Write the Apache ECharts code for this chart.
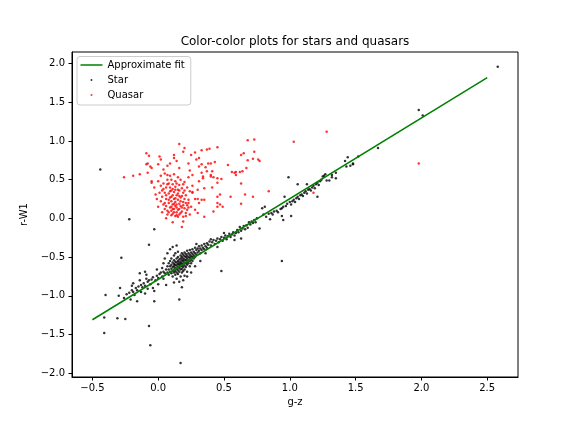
<!DOCTYPE html>
<html>
<head>
<meta charset="utf-8">
<script src="https://cdn.jsdelivr.net/npm/echarts@6/dist/echarts.min.js"></script>
<style>
  html, body { margin: 0; padding: 0; background: #fff; }
  #main { width: 576px; height: 432px; }
</style>
</head>
<body>
<div id="main"></div>
<script>
// tick labels
var xTicks = [-0.5, 0, 0.5, 1, 1.5, 2, 2.5];
var yTicks = [-2, -1.5, -1, -0.5, 0, 0.5, 1, 1.5, 2];

// approximate fit line (two ends)
var fitX = [-0.5, 2.5];
var fitY = [-1.31, 1.82];

// stars, [g-z, r-W1]
var starPoints = [
  [-0.44,0.63],[-0.22,-0.01],[-0.03,-0.14],[-0.07,-0.34],[-0.28,-0.51],[-0.40,-0.99],[-0.29,-0.90],[-0.41,-1.28],
  [-0.41,-1.48],[-0.31,-1.29],[-0.25,-1.30],[-0.07,-1.39],[-0.06,-1.64],[0.17,-1.87],[0.48,-0.68],[0.16,-1.05],
  [-0.03,-1.07],[-0.16,-1.07],[-0.21,-1.05],[-0.14,-0.71],[-0.10,-0.69],[-0.09,-0.73],[0.06,-0.86],[0.04,-0.78],
  [-0.03,-0.94],[-0.10,-0.97],[-0.19,-0.84],[0.94,-0.55],[0.99,0.53],[1.06,0.44],[0.96,0.28],[1.21,0.28],
  [0.94,0.03],[1.01,0.03],[0.95,-0.02],[0.77,-0.13],[0.85,-0.01],[1.98,1.40],[2.01,1.33],[2.58,1.96],
  [1.67,0.91],[1.52,0.80],[1.42,0.74],[1.44,0.79],[1.43,0.67],[1.46,0.68],[1.48,0.70],[1.48,0.71],
  [-0.24,-0.98],[-0.22,-0.96],[-0.20,-0.93],[-0.19,-0.95],[-0.17,-0.90],[-0.16,-0.93],[-0.15,-0.88],[-0.13,-0.86],
  [-0.12,-0.89],[-0.11,-0.84],[-0.10,-0.87],[-0.08,-0.82],[-0.07,-0.80],[-0.06,-0.85],[-0.05,-0.79],[-0.04,-0.76],
  [-0.02,-0.80],[-0.01,-0.74],[0.00,-0.77],[0.01,-0.72],[0.02,-0.70],[0.03,-0.75],[0.04,-0.69],[0.05,-0.71],
  [-0.30,-1.00],[-0.26,-1.03],[-0.18,-0.99],[-0.13,-0.95],[-0.08,-0.91],[-0.14,-0.80],[-0.04,-0.90],[-0.20,-0.87],
  [-0.09,-0.78],[0.00,-0.85],[0.03,-0.64],[-0.01,-0.66],
  [0.06,-0.66],[0.07,-0.62],[0.07,-0.70],[0.08,-0.58],[0.08,-0.66],[0.08,-0.73],[0.09,-0.62],[0.09,-0.69],
  [0.09,-0.55],[0.10,-0.60],[0.10,-0.65],[0.10,-0.71],[0.10,-0.52],[0.11,-0.57],[0.11,-0.63],[0.11,-0.68],
  [0.11,-0.75],[0.12,-0.54],[0.12,-0.59],[0.12,-0.62],[0.12,-0.66],[0.12,-0.70],[0.12,-0.48],[0.13,-0.56],
  [0.13,-0.60],[0.13,-0.64],[0.13,-0.68],[0.13,-0.73],[0.13,-0.45],[0.14,-0.52],[0.14,-0.57],[0.14,-0.61],
  [0.14,-0.65],[0.14,-0.70],[0.14,-0.78],[0.15,-0.50],[0.15,-0.55],[0.15,-0.59],[0.15,-0.63],[0.15,-0.67],
  [0.15,-0.72],[0.15,-0.43],[0.16,-0.53],[0.16,-0.57],[0.16,-0.60],[0.16,-0.64],[0.16,-0.69],[0.16,-0.82],
  [0.17,-0.48],[0.17,-0.52],[0.17,-0.56],[0.17,-0.59],[0.17,-0.62],[0.17,-0.66],[0.17,-0.75],[0.18,-0.45],
  [0.18,-0.50],[0.18,-0.54],[0.18,-0.58],[0.18,-0.61],[0.18,-0.65],[0.18,-0.70],[0.19,-0.47],[0.19,-0.52],
  [0.19,-0.55],[0.19,-0.59],[0.19,-0.63],[0.19,-0.68],[0.20,-0.44],[0.20,-0.49],[0.20,-0.53],[0.20,-0.57],
  [0.20,-0.61],[0.20,-0.66],[0.20,-0.74],[0.21,-0.46],[0.21,-0.50],[0.21,-0.54],[0.21,-0.58],[0.21,-0.63],
  [0.22,-0.42],[0.22,-0.48],[0.22,-0.52],[0.22,-0.56],[0.22,-0.60],[0.22,-0.69],[0.23,-0.45],[0.23,-0.50],
  [0.23,-0.54],[0.23,-0.58],[0.24,-0.41],[0.24,-0.47],[0.24,-0.51],[0.24,-0.55],[0.24,-0.62],[0.25,-0.44],
  [0.25,-0.49],[0.25,-0.53],[0.25,-0.58],[0.26,-0.40],[0.26,-0.46],[0.26,-0.50],[0.26,-0.55],[0.27,-0.43],
  [0.27,-0.48],[0.27,-0.52],[0.28,-0.38],[0.28,-0.45],[0.28,-0.50],[0.29,-0.41],[0.29,-0.47],[0.30,-0.39],
  [0.30,-0.44],[0.31,-0.36],[0.31,-0.42],[0.32,-0.39],[0.32,-0.45],[0.33,-0.35],[0.33,-0.41],[0.34,-0.38],
  [0.35,-0.33],[0.35,-0.40],[0.36,-0.36],[0.37,-0.32],[0.37,-0.38],[0.38,-0.34],[0.39,-0.30],[0.40,-0.35],
  [0.41,-0.31],[0.42,-0.28],[0.43,-0.33],[0.44,-0.29],[0.45,-0.26],[0.46,-0.31],[0.47,-0.27],[0.48,-0.24],
  [0.49,-0.29],[0.50,-0.25],[0.51,-0.22],[0.52,-0.27],[0.53,-0.23],[0.54,-0.20],[0.55,-0.24],[0.56,-0.21],
  [0.57,-0.18],[0.58,-0.22],[0.59,-0.19],[0.60,-0.15],[0.61,-0.18],[0.62,-0.11],[0.63,-0.16],[0.64,-0.13],
  [0.65,-0.10],[0.66,-0.14],[0.67,-0.09],[0.68,-0.12],[0.69,-0.05],[0.70,-0.08],[0.71,-0.04],[0.72,-0.06],
  [0.73,-0.02],[0.74,-0.05],[0.75,0.00],
  [0.07,-0.45],[0.09,-0.40],[0.11,-0.37],[0.14,-0.35],[0.05,-0.52],[0.04,-0.58],[0.22,-0.75],[0.25,-0.70],
  [0.28,-0.62],[0.19,-0.80],[0.32,-0.55],[0.12,-0.83],[0.18,-0.89],[0.29,-0.33],[0.40,-0.27],[0.50,-0.19],
  [0.58,-0.28],[0.63,-0.26],[0.36,-0.45],[0.45,-0.37],
  [0.80,0.05],[0.82,0.02],[0.84,0.06],[0.86,0.07],[0.87,0.05],[0.88,0.09],[0.90,0.10],[0.91,0.08],
  [0.93,0.12],[0.94,0.13],[0.95,0.15],[0.97,0.16],[0.98,0.19],[1.00,0.21],[1.01,0.18],[1.02,0.22],
  [1.03,0.24],[1.04,0.21],[1.05,0.26],[1.06,0.28],[1.07,0.25],[1.08,0.30],[1.09,0.31],[1.10,0.29],
  [1.11,0.33],[1.12,0.35],[1.13,0.32],[1.14,0.37],[1.15,0.38],[1.16,0.36],[1.17,0.40],[1.18,0.42],
  [1.19,0.39],[1.20,0.44],[1.21,0.46],[1.22,0.43],[1.23,0.48],[1.24,0.50],[1.25,0.54],[1.28,0.49],
  [1.30,0.49],[1.32,0.53],[1.35,0.52],[1.35,0.59],[1.32,0.56],[1.26,0.55],[1.27,0.57],[0.79,0.13],
  [0.81,0.15],[1.13,0.44]
];

// quasars, [g-z, r-W1]
var quasarPoints = [
  [-0.26,0.53],[-0.19,0.55],[-0.14,0.57],[-0.08,0.59],[-0.09,0.84],[-0.07,0.81],[-0.08,0.71],[-0.06,0.67],
  [-0.05,0.48],[-0.05,0.46],[0.01,0.80],[0.02,0.76],[0.04,0.63],[0.07,0.56],[0.12,0.82],[0.16,0.96],
  [0.20,0.91],[0.19,0.86],[0.14,0.74],[0.09,0.71],[0.23,0.71],[0.25,0.82],[0.28,0.85],[0.31,0.78],
  [0.33,0.88],[0.37,0.89],[0.39,0.90],[0.45,0.92],[0.31,0.67],[0.36,0.66],[0.40,0.71],[0.43,0.73],
  [0.41,0.61],[0.37,0.61],[0.34,0.54],[0.40,0.54],[0.48,0.51],[0.53,0.69],[0.56,0.60],[0.58,0.59],
  [0.59,0.56],[0.63,0.45],[0.64,0.61],[0.68,0.75],[0.72,0.77],[0.73,1.02],[0.68,1.01],[0.63,0.82],
  [0.55,0.28],[0.63,0.19],[0.72,0.28],[0.45,0.20],[0.49,0.15],[0.42,0.09],[0.47,0.31],[0.35,0.24],
  [0.31,0.20],[0.28,0.25],[0.26,0.34],[0.25,0.15],[0.23,0.20],[0.28,0.11],[0.30,0.07],[0.21,0.03],
  [0.18,-0.11],[0.11,-0.05],[0.06,0.00],[0.19,-0.04],
  [-0.09,0.70],[-0.05,0.65],[0.00,0.70],[0.07,0.68],[0.12,0.78],[0.16,0.65],[0.24,0.62],[0.29,0.76],
  [0.33,0.70],[0.38,0.71],[0.33,0.59],[0.40,0.56],[0.42,0.53],[0.34,0.52],[0.31,0.48],[0.26,0.56],
  [0.23,0.53],[0.45,0.52],[0.45,0.46],[0.41,0.40],[0.35,0.39],[0.30,0.37],[0.26,0.33],[0.30,0.25],
  [0.33,0.24],[0.45,0.28],[0.45,0.15],[0.47,0.18],[0.35,0.02],[0.59,0.60],[0.62,0.60],[0.66,0.31],
  [0.67,0.65],[0.65,0.84],[0.76,0.76],[0.73,0.86],[0.77,0.74],[0.84,0.35],[1.03,0.99],[1.28,1.12],
  [1.18,0.33],[1.98,0.71],
  [0.02,0.42],[0.04,0.38],[0.05,0.33],[0.03,0.28],[0.06,0.25],[0.02,0.22],[0.04,0.18],[0.05,0.12],
  [0.03,0.08],[0.07,0.05],[0.08,0.45],[0.09,0.40],[0.10,0.36],[0.08,0.32],[0.11,0.30],[0.09,0.27],
  [0.12,0.25],[0.10,0.22],[0.08,0.20],[0.11,0.18],[0.13,0.16],[0.09,0.14],[0.12,0.12],[0.10,0.10],
  [0.14,0.08],[0.11,0.06],[0.13,0.03],[0.16,0.05],[0.15,0.11],[0.14,0.14],[0.16,0.19],[0.13,0.21],
  [0.15,0.24],[0.17,0.27],[0.14,0.30],[0.12,0.34],[0.15,0.37],[0.13,0.41],[0.11,0.44],[0.16,0.43],
  [0.18,0.39],[0.19,0.33],[0.18,0.29],[0.20,0.25],[0.19,0.21],[0.17,0.16],[0.20,0.13],[0.18,0.09],
  [0.21,0.07],[0.19,0.02],[0.22,0.11],[0.22,0.17],[0.23,0.24],[0.21,0.30],[0.24,0.35],[0.22,0.40],
  [0.20,0.47],[0.17,0.50],[0.13,0.48],[0.07,0.50],[0.06,0.16],[0.07,0.10],[0.08,0.24],[0.10,0.15],
  [0.12,0.08],[0.14,0.18],[0.15,0.02],[0.16,0.12],[0.17,0.22],[0.18,0.14],[0.10,0.28],[0.11,0.38],
  [0.09,0.35],[0.13,0.26],[0.14,0.04],[0.16,0.29],[0.12,0.19],[0.19,0.17],[0.17,0.07],[0.11,0.12],
  [0.05,0.20],[0.04,0.45],[0.01,0.33],[0.03,0.36],[0.06,0.40],[0.08,0.08],[0.10,0.04],[0.21,0.20],
  [0.23,0.14],[0.24,0.05],[0.00,0.15],[-0.01,0.25],[0.02,0.55],[0.05,0.58],[0.09,0.55],[0.12,0.57],
  [0.15,0.53],[0.10,0.50],[0.19,0.44],[0.16,0.36],[-0.03,0.40],[-0.02,0.31],[0.00,0.48],[0.07,0.44],
  [0.14,0.45],[0.06,0.30],[0.15,0.32],[0.13,0.37],[0.20,0.36],[0.26,0.42]
];

var fitLine = fitX.map(function (x, i) { return [x, fitY[i]]; });

function fmt(v) {
  return v.toFixed(1).replace('-', '\u2212');
}

var font = 'DejaVu Sans';
var myChart = echarts.init(document.getElementById('main'));

var option = {
  backgroundColor: '#fff',
  animation: false,
  title: {
    text: 'Color-color plots for stars and quasars',
    left: 295,
    top: 36,
    textAlign: 'center',
    padding: 0,
    textStyle: { fontFamily: font, fontSize: 12, fontWeight: 'normal', color: '#000' }
  },
  grid: {
    left: 72, right: 58, top: 52, bottom: 55,
    show: true, borderColor: '#000', borderWidth: 1,
    outerBoundsMode: 'none'
  },
  legend: {
    orient: 'vertical',
    left: 77, top: 56.5,
    padding: [1, 6, 2.5, 3.5],
    itemGap: 0,
    itemWidth: 22,
    itemHeight: 2,
    backgroundColor: 'rgba(255,255,255,0.8)',
    borderColor: '#cccccc',
    borderWidth: 1,
    borderRadius: 3,
    textStyle: { fontFamily: font, fontSize: 10, lineHeight: 15, color: '#000' },
    data: [
      { name: 'Approximate fit', icon: 'path://M0,0H22V1.5H0Z' },
      { name: 'Star', icon: 'circle' },
      { name: 'Quasar', icon: 'circle' }
    ]
  },
  xAxis: {
    type: 'value',
    min: -0.655, max: 2.734,
    name: 'g-z',
    nameLocation: 'middle',
    nameGap: 20,
    nameTextStyle: { fontFamily: font, fontSize: 10, color: '#000' },
    axisLine: { show: true, onZero: false, lineStyle: { color: '#000', width: 1 } },
    axisTick: { show: true, inside: false, length: 3.5, lineStyle: { color: '#000' }, customValues: xTicks },
    axisLabel: { fontFamily: font, fontSize: 10, color: '#000', margin: 6, customValues: xTicks, formatter: fmt },
    splitLine: { show: false }
  },
  yAxis: {
    type: 'value',
    min: -2.05, max: 2.15,
    name: 'r-W1',
    nameLocation: 'middle',
    nameGap: 30,
    nameTextStyle: { fontFamily: font, fontSize: 10, color: '#000' },
    axisLine: { show: true, onZero: false, lineStyle: { color: '#000', width: 1 } },
    axisTick: { show: true, inside: false, length: 3.5, lineStyle: { color: '#000' }, customValues: yTicks },
    axisLabel: { fontFamily: font, fontSize: 10, color: '#000', margin: 7, customValues: yTicks, formatter: fmt },
    splitLine: { show: false }
  },
  series: [
    {
      name: 'Approximate fit',
      type: 'line',
      data: fitLine,
      showSymbol: false,
      z: 3,
      itemStyle: { color: '#008000' },
      lineStyle: { color: '#008000', width: 1.5 }
    },
    {
      name: 'Star',
      type: 'scatter',
      data: starPoints,
      symbol: 'circle',
      symbolSize: 2.5,
      itemStyle: { color: '#000' }
    },
    {
      name: 'Quasar',
      type: 'scatter',
      data: quasarPoints,
      symbol: 'circle',
      symbolSize: 2.5,
      itemStyle: { color: '#ff0000' }
    }
  ]
};
myChart.setOption(option);
</script>
</body>
</html>
